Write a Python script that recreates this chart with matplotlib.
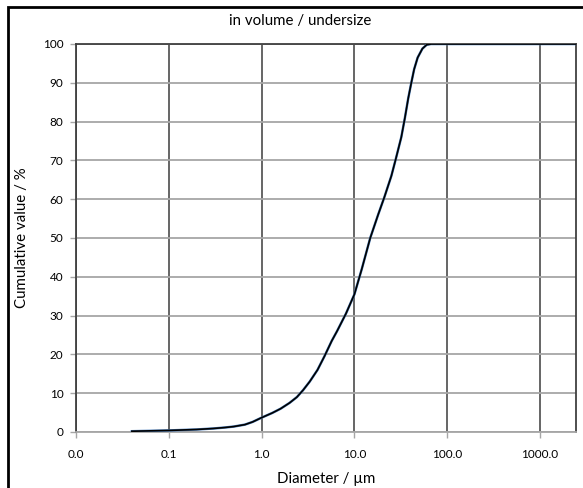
import matplotlib.pyplot as plt
from matplotlib.patches import Rectangle

plt.rcParams['font.family'] = ['Lato', 'DejaVu Sans']

# particle size distribution, cumulative undersize (volume)
diameter = [0.04, 0.1, 0.2, 0.3, 0.4, 0.5, 0.66, 0.8, 1.0, 1.3, 1.6, 2.0, 2.4,
            2.8, 3.3, 4.0, 4.75, 5.7, 6.5, 8.1, 10, 12, 14.8, 18, 21, 25, 28,
            32, 35, 38, 41, 44, 48, 54, 60, 67, 100, 2500]
cumulative = [0.2, 0.4, 0.65, 0.9, 1.15, 1.4, 1.9, 2.6, 3.7, 4.9, 6.0, 7.5, 9.0,
              10.8, 13, 16, 19.5, 23.5, 26, 30.5, 35.5, 42, 50, 56, 60.5, 66, 70.5,
              76, 81, 86, 90, 93.5, 96.5, 98.8, 99.8, 100, 100, 100]

xticks = [0.01, 0.1, 1, 10, 100, 1000]
xlabels = ["0.0", "0.1", "1.0", "10.0", "100.0", "1000.0"]

W, H = 583, 488
fig = plt.figure(figsize=(W / 100, H / 100), dpi=100)
ax = fig.add_axes([76 / W, 1 - 432 / H, 500 / W, 388 / H])

ax.plot(diameter, cumulative, color="#4f81bd", lw=1.8, zorder=3)
ax.plot(diameter, cumulative, color="black", lw=1.2, zorder=4)

ax.set_xscale("log")
ax.set_xlim(0.01, 2440)
ax.set_ylim(0, 100)
ax.set_xticks(xticks)
ax.set_xticklabels(xlabels)
ax.minorticks_off()
ax.set_yticks(range(0, 101, 10))

ax.grid(axis="x", color="#595959", lw=1.3)
ax.grid(axis="y", color="#a6a6a6", lw=1.3)
ax.set_axisbelow(True)

for s in ["left", "right", "top"]:
    ax.spines[s].set_color("#404040")
    ax.spines[s].set_linewidth(1.3)
ax.spines["bottom"].set_color("#a6a6a6")
ax.spines["bottom"].set_linewidth(1.3)
ax.tick_params(axis="both", length=4, width=1, color="#a6a6a6", labelsize=8.5, pad=5)
ax.tick_params(axis="x", pad=8)

ax.set_xlabel("Diameter / µm", fontsize=10.8, labelpad=9)
ax.set_ylabel("Cumulative value / %", fontsize=10.8, labelpad=10)
fig.text(300 / W, 1 - 21 / H, "in volume / undersize", ha="center", va="center", fontsize=10.8)

fig.patches.append(Rectangle((8 / W, -0.1), 1.2, 1.1 - 7 / H, transform=fig.transFigure,
                             fill=False, edgecolor="black", lw=2))

fig.savefig("out.png", dpi=100)
